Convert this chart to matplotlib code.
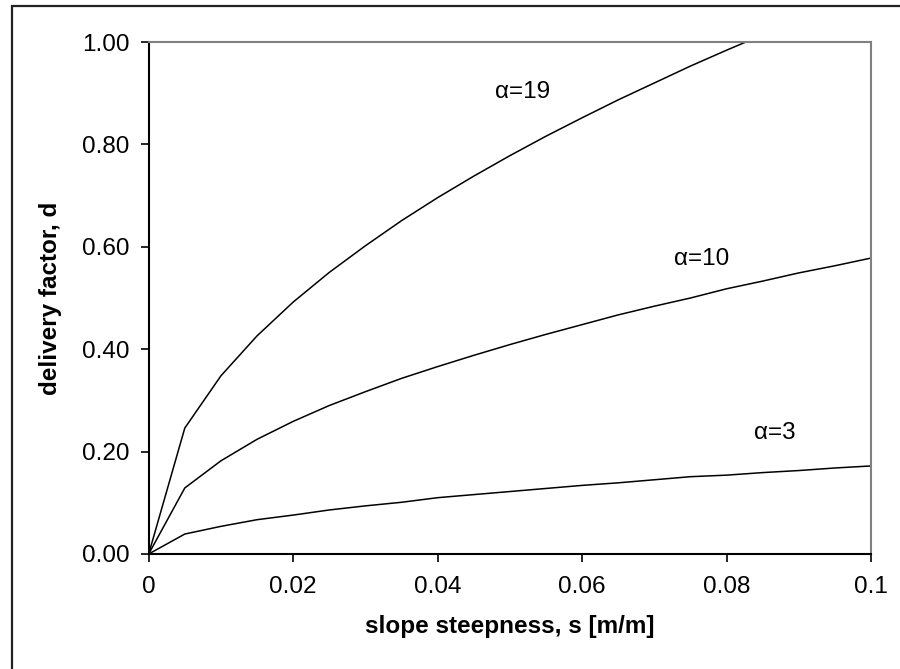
import matplotlib.pyplot as plt
from matplotlib.patches import Rectangle

plt.rcParams['font.family'] = ['Liberation Sans', 'DejaVu Sans']

# slope steepness s [m/m]
slope = [0.0, 0.005, 0.01, 0.015, 0.02, 0.025, 0.03, 0.035, 0.04, 0.045, 0.05,
         0.055, 0.06, 0.065, 0.07, 0.075, 0.08, 0.085, 0.09, 0.095, 0.1]

# delivery factor d for each alpha
d_alpha3 = [0.0, 0.039, 0.054, 0.067, 0.076, 0.086, 0.094, 0.101, 0.110, 0.116, 0.122,
            0.128, 0.134, 0.139, 0.145, 0.151, 0.154, 0.159, 0.163, 0.168, 0.172]
d_alpha10 = [0.0, 0.129, 0.182, 0.224, 0.259, 0.290, 0.317, 0.343, 0.366, 0.388, 0.409,
             0.429, 0.448, 0.467, 0.484, 0.500, 0.518, 0.533, 0.549, 0.563, 0.578]
d_alpha19 = [0.0, 0.246, 0.348, 0.426, 0.492, 0.550, 0.602, 0.651, 0.696, 0.738, 0.778,
             0.816, 0.852, 0.887, 0.920, 0.953, 0.984, 1.014, 1.044, 1.072, 1.100]

curve_labels = [r'$\alpha$=19', r'$\alpha$=10', r'$\alpha$=3']
label_pos = [(0.0517, 0.902), (0.0766, 0.576), (0.0867, 0.236)]

x_ticks = [0, 0.02, 0.04, 0.06, 0.08, 0.1]
x_ticklabels = ['0', '0.02', '0.04', '0.06', '0.08', '0.1']
y_ticks = [0.0, 0.2, 0.4, 0.6, 0.8, 1.0]
y_ticklabels = ['0.00', '0.20', '0.40', '0.60', '0.80', '1.00']

fig = plt.figure(figsize=(9, 6.69), dpi=100)
ax = fig.add_axes([0.1652, 0.1719, 0.8026, 0.7653])

for d in (d_alpha19, d_alpha10, d_alpha3):
    ax.plot(slope, d, color='black', linewidth=1.1)

for text, (xs, yd) in zip(curve_labels, label_pos):
    ax.text(xs, yd, text.replace(r'$\alpha$', 'α'), fontsize=17.5,
            ha='center', va='center')

ax.set_xlim(0, 0.1)
ax.set_ylim(0, 1.0)
ax.set_xticks(x_ticks)
ax.set_xticklabels(x_ticklabels)
ax.set_yticks(y_ticks)
ax.set_yticklabels(y_ticklabels)
ax.tick_params(axis='both', direction='out', length=6, width=1.2,
               labelsize=17.5, color='black')
ax.tick_params(axis='x', pad=10)
ax.tick_params(axis='y', pad=8)

ax.spines['left'].set_color('black')
ax.spines['bottom'].set_color('black')
ax.spines['left'].set_linewidth(1.5)
ax.spines['bottom'].set_linewidth(1.5)
ax.spines['top'].set_color('#808080')
ax.spines['right'].set_color('#808080')
ax.spines['top'].set_linewidth(1.5)
ax.spines['right'].set_linewidth(1.5)

ax.set_xlabel('slope steepness, s [m/m]', fontsize=17.5, fontweight='bold', labelpad=12)
ax.set_ylabel('delivery factor, d', fontsize=17.5, fontweight='bold', labelpad=14)

# outer chart frame
fig.patches.append(Rectangle((12 / 900, -0.1), 1.2, 1.1 - 6 / 669,
                             transform=fig.transFigure, fill=False,
                             edgecolor='#222222', linewidth=1.6))

fig.savefig('out.png', dpi=100)
